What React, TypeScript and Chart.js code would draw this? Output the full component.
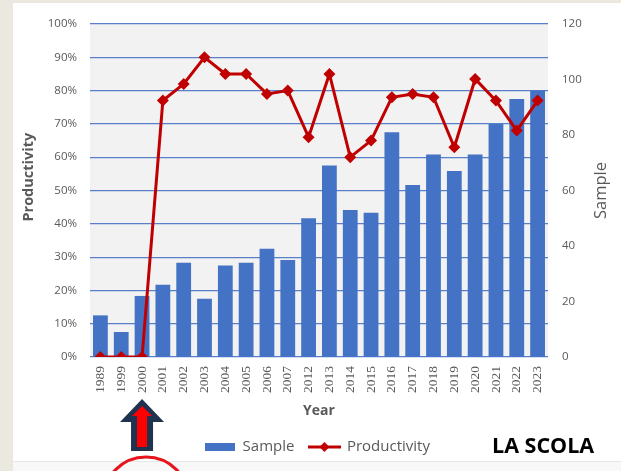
import React, { useEffect, useRef } from 'react';
import { Chart, registerables } from 'chart.js';

Chart.register(...registerables);

const years: string[] = ['1989', '1999', '2000', '2001', '2002', '2003', '2004', '2005', '2006', '2007', '2012', '2013', '2014', '2015', '2016', '2017', '2018', '2019', '2020', '2021', '2022', '2023'];
const sample: number[] = [15, 9, 22, 26, 34, 21, 33, 34, 39, 35, 50, 69, 53, 52, 81, 62, 73, 67, 73, 84, 93, 96];
const productivity: number[] = [0, 0, 0, 77, 82, 90, 85, 85, 79, 80, 66, 85, 60, 65, 78, 79, 78, 63, 83.5, 77, 68, 77];
const highlightIndex = 2; // year 2000

const BLUE = '#4472c4';
const RED = '#c00000';
const GRAY = '#595959';

function makeBoxIcon(): HTMLCanvasElement {
  const c = document.createElement('canvas');
  c.width = 30;
  c.height = 8;
  const x = c.getContext('2d')!;
  x.fillStyle = BLUE;
  x.fillRect(0, 0, 30, 8);
  return c;
}

function makeLineIcon(): HTMLCanvasElement {
  const c = document.createElement('canvas');
  c.width = 33;
  c.height = 12;
  const x = c.getContext('2d')!;
  x.strokeStyle = RED;
  x.lineWidth = 3;
  x.beginPath();
  x.moveTo(0, 6);
  x.lineTo(33, 6);
  x.stroke();
  x.fillStyle = RED;
  x.beginPath();
  x.moveTo(16.5, 1);
  x.lineTo(21.5, 6);
  x.lineTo(16.5, 11);
  x.lineTo(11.5, 6);
  x.closePath();
  x.fill();
  return c;
}

const decor = {
  id: 'decor',
  beforeDraw(chart: any) {
    const { ctx, width, height, chartArea: ca } = chart;
    ctx.save();
    ctx.fillStyle = '#ebe8df';
    ctx.fillRect(0, 0, width, height);
    ctx.fillStyle = '#ffffff';
    ctx.fillRect(13, 3, width - 13, height - 3);
    ctx.fillStyle = '#f8f8f8';
    ctx.fillRect(13, 462, width - 13, height - 462);
    ctx.fillStyle = '#e6e6e6';
    ctx.fillRect(13, 461, width - 13, 1);
    ctx.fillStyle = '#f2f2f2';
    ctx.fillRect(ca.left, ca.top, ca.right - ca.left, ca.bottom - ca.top);
    ctx.restore();
  },
  afterDraw(chart: any) {
    const { ctx, chartArea: ca } = chart;
    const y1 = chart.scales.y1;
    const y = chart.scales.y;

    // left axis title
    ctx.save();
    ctx.translate(y.left + 15, ca.top + (ca.bottom - ca.top) * 0.46);
    ctx.rotate(-Math.PI / 2);
    ctx.font = 'bold 14.5px "Open Sans"';
    ctx.fillStyle = GRAY;
    ctx.textAlign = 'center';
    ctx.textBaseline = 'middle';
    ctx.fillText('Productivity', 0, 0);
    ctx.restore();

    // right axis title
    ctx.save();
    ctx.translate(y1.right - 20, (ca.top + ca.bottom) / 2);
    ctx.rotate(-Math.PI / 2);
    ctx.font = '16.5px "Open Sans"';
    ctx.fillStyle = GRAY;
    ctx.textAlign = 'center';
    ctx.textBaseline = 'middle';
    ctx.fillText('Sample', 0, 0);
    ctx.restore();

    // brand text
    ctx.save();
    ctx.font = 'bold 21.5px "Open Sans"';
    ctx.fillStyle = '#000000';
    ctx.textAlign = 'left';
    ctx.textBaseline = 'middle';
    ctx.fillText('LA SCOLA', 492, 447);
    ctx.restore();

    // arrow pointing at highlighted year
    const ax = chart.scales.x.getPixelForValue(highlightIndex);
    ctx.save();
    ctx.fillStyle = '#1f3350';
    ctx.beginPath();
    ctx.moveTo(ax, 399);
    ctx.lineTo(ax + 22, 422);
    ctx.lineTo(ax + 11, 422);
    ctx.lineTo(ax + 11, 451);
    ctx.lineTo(ax - 11, 451);
    ctx.lineTo(ax - 11, 422);
    ctx.lineTo(ax - 22, 422);
    ctx.closePath();
    ctx.fill();
    ctx.fillStyle = '#ff0000';
    ctx.beginPath();
    ctx.moveTo(ax, 406);
    ctx.lineTo(ax + 10, 416);
    ctx.lineTo(ax + 5, 416);
    ctx.lineTo(ax + 5, 447);
    ctx.lineTo(ax - 5, 447);
    ctx.lineTo(ax - 5, 416);
    ctx.lineTo(ax - 10, 416);
    ctx.closePath();
    ctx.fill();
    // circle
    ctx.strokeStyle = '#e8141c';
    ctx.lineWidth = 3;
    ctx.beginPath();
    ctx.arc(ax + 4, 500, 43, 0, Math.PI * 2);
    ctx.stroke();
    ctx.restore();
  },
};

export default function App() {
  const ref = useRef<HTMLCanvasElement>(null);

  useEffect(() => {
    const canvas = ref.current!;
    const boxIcon = makeBoxIcon();
    const lineIcon = makeLineIcon();
    const chart = new Chart(canvas, {
      type: 'bar',
      data: {
        labels: years,
        datasets: [
          {
            type: 'bar',
            label: 'Sample',
            data: sample,
            yAxisID: 'y1',
            backgroundColor: BLUE,
            borderWidth: 0,
            barPercentage: 0.71,
            categoryPercentage: 1,
            order: 2,
          },
          {
            type: 'line',
            label: 'Productivity',
            data: productivity,
            yAxisID: 'y',
            borderColor: RED,
            backgroundColor: RED,
            borderWidth: 3,
            pointStyle: 'rectRot',
            pointRadius: 6,
            pointBorderWidth: 0,
            tension: 0,
            order: 1,
          } as any,
        ],
      },
      options: {
        responsive: false,
        animation: false,
        layout: { padding: { left: 14, right: 0, top: 24, bottom: 6.5 } },
        plugins: {
          tooltip: { enabled: false },
          legend: {
            position: 'bottom',
            labels: {
              usePointStyle: true,
              pointStyleWidth: 30,
              padding: 15,
              color: GRAY,
              font: { family: '"Open Sans"', size: 15 },
              generateLabels: () => [
                { text: 'Sample', pointStyle: boxIcon, fillStyle: BLUE, strokeStyle: BLUE, lineWidth: 0, datasetIndex: 0, hidden: false, fontColor: GRAY } as any,
                { text: 'Productivity', pointStyle: lineIcon, fillStyle: RED, strokeStyle: RED, lineWidth: 0, datasetIndex: 1, hidden: false, fontColor: GRAY } as any,
              ],
            },
          },
        },
        scales: {
          x: {
            offset: true,
            grid: { display: false, drawTicks: false },
            border: { display: false },
            ticks: {
              minRotation: 90,
              maxRotation: 90,
              autoSkip: false,
              padding: 9,
              color: GRAY,
              font: { family: '"Liberation Serif"', size: 13.5 },
            },
            title: {
              display: true,
              text: 'Year',
              color: GRAY,
              font: { family: '"Open Sans"', size: 14, weight: 'bold' },
              padding: { top: 4, bottom: 4.6 },
            },
            afterFit: (s: any) => {
              s.height = 67.5;
            },
          },
          y: {
            position: 'left',
            min: 0,
            max: 100,
            ticks: {
              stepSize: 10,
              padding: 13,
              color: GRAY,
              font: { family: '"Open Sans"', size: 11.5 },
              callback: (v: any) => v + '%',
            },
            grid: { color: '#5a7fca', lineWidth: 1.2, drawTicks: false },
            border: { display: false },
            afterFit: (s: any) => {
              s.width = 76;
            },
          },
          y1: {
            position: 'right',
            min: 0,
            max: 120,
            ticks: {
              stepSize: 20,
              padding: 14,
              color: GRAY,
              font: { family: '"Open Sans"', size: 11.5 },
            },
            grid: { display: false, drawTicks: false },
            border: { display: false },
            afterFit: (s: any) => {
              s.width = 73;
            },
          },
        },
      },
      plugins: [decor],
    });
    return () => chart.destroy();
  }, []);

  return (
    <div style={{ position: 'fixed', left: 0, top: 0, width: 621, height: 471 }}>
      <canvas ref={ref} width={621} height={471} style={{ display: 'block', width: 621, height: 471 }} />
    </div>
  );
}
